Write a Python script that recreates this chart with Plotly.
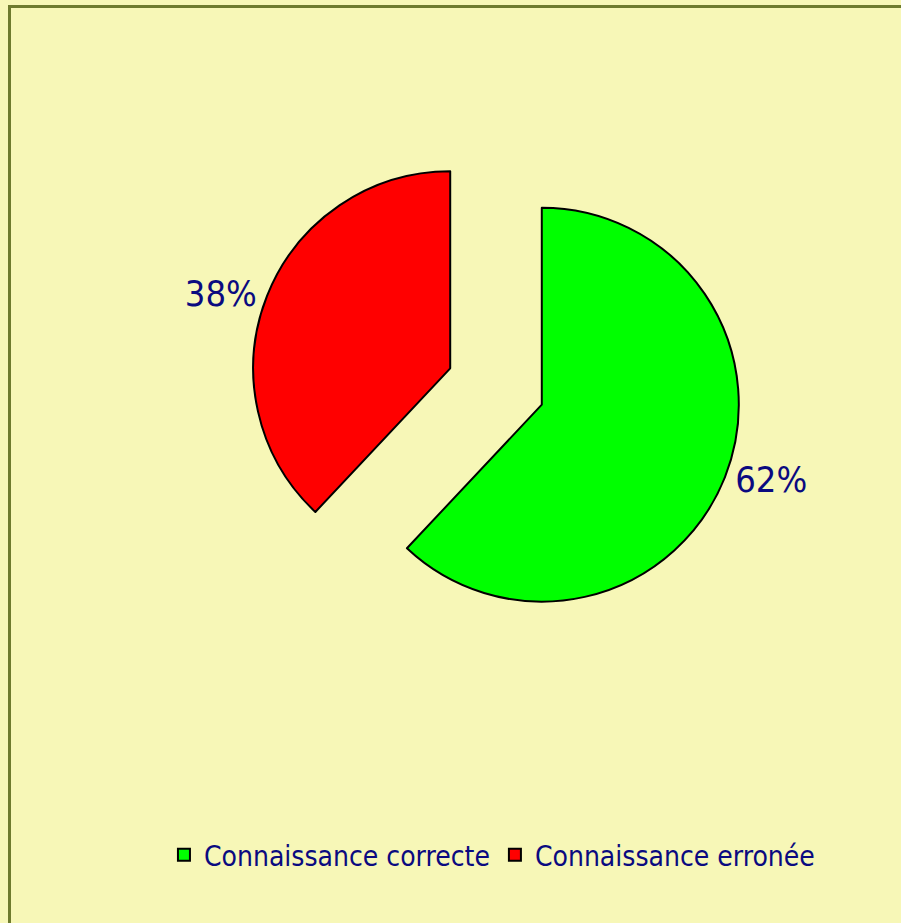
import plotly.graph_objects as go

categories = ["Connaissance correcte", "Connaissance erronée"]
values = [62, 38]
colors = ["#00FF00", "#FF0000"]

W, H = 901, 923
FONT = "DejaVu Sans Condensed, Liberation Sans Narrow, Roboto, sans-serif"

# pie geometry (pixels)
cx, cy, box = 496, 386.5, 492.5

fig = go.Figure()
fig.add_trace(go.Pie(
    labels=categories,
    values=values,
    sort=False,
    direction="clockwise",
    rotation=0,
    pull=[0.25, 0.25],
    marker=dict(colors=colors, line=dict(color="#000000", width=2)),
    textinfo="percent",
    texttemplate="%{percent:.0%}",
    textposition="outside",
    outsidetextfont=dict(family=FONT, size=36, color="#0A0A80"),
    domain=dict(x=[(cx - box / 2) / W, (cx + box / 2) / W],
                y=[1 - (cy + box / 2) / H, 1 - (cy - box / 2) / H]),
    hoverinfo="label+percent",
))

fig.update_layout(
    width=W, height=H,
    autosize=False,
    margin=dict(l=0, r=0, t=0, b=0, autoexpand=False),
    paper_bgcolor="#F7F7B7",
    showlegend=True,
    legend=dict(orientation="h", x=0.546, xanchor="center", y=1 - 855 / H, yanchor="middle",
                font=dict(family=FONT, size=28, color="#0A0A80"),
                bgcolor="rgba(0,0,0,0)"),
    shapes=[dict(type="rect", xref="paper", yref="paper",
                 x0=9.5 / W, x1=1.05, y0=-0.05, y1=1 - 6.5 / H,
                 line=dict(color="#6E7B2E", width=3))],
)

fig.write_html(
    "out.html",
    config={"displayModeBar": False, "responsive": False},
    post_script=("document.body.style.margin='0';document.body.style.overflow='hidden';"
                 "Plotly.relayout('{plot_id}', {width: %d, height: %d});" % (W, H)),
)
